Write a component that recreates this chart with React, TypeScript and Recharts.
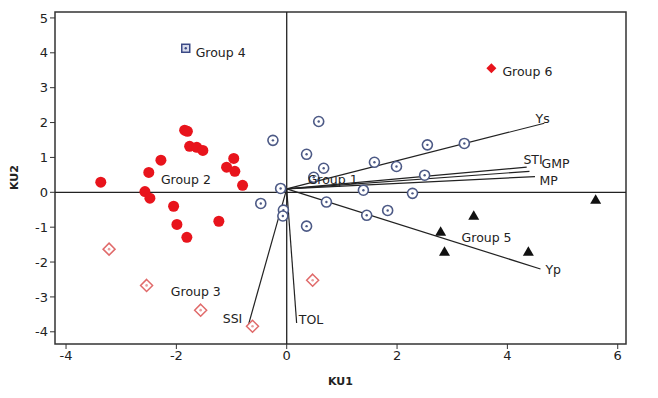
import React from 'react';
import {
  ScatterChart,
  Scatter,
  XAxis,
  YAxis,
  ReferenceLine,
  ReferenceArea,
} from 'recharts';

const xTicks = [-4, -2, 0, 2, 4, 6];
const yTicks = [-4, -3, -2, -1, 0, 1, 2, 3, 4, 5];

const group1 = [
  { x: -0.25, y: 1.49 }, { x: 0.58, y: 2.03 }, { x: 0.36, y: 1.09 }, { x: 0.67, y: 0.69 },
  { x: 0.49, y: 0.43 }, { x: -0.11, y: 0.11 }, { x: 1.59, y: 0.86 }, { x: 1.99, y: 0.74 },
  { x: 2.55, y: 1.36 }, { x: 3.22, y: 1.4 }, { x: 2.5, y: 0.49 }, { x: 1.39, y: 0.06 },
  { x: 2.28, y: -0.03 }, { x: 0.72, y: -0.28 }, { x: 1.45, y: -0.66 }, { x: 1.83, y: -0.52 },
  { x: -0.47, y: -0.32 }, { x: -0.06, y: -0.51 }, { x: -0.07, y: -0.68 }, { x: 0.36, y: -0.97 },
];

const group2 = [
  { x: -3.37, y: 0.29 }, { x: -2.5, y: 0.57 }, { x: -2.28, y: 0.92 }, { x: -1.85, y: 1.78 },
  { x: -1.8, y: 1.75 }, { x: -1.76, y: 1.32 }, { x: -1.63, y: 1.29 }, { x: -1.52, y: 1.2 },
  { x: -0.96, y: 0.97 }, { x: -1.09, y: 0.72 }, { x: -0.94, y: 0.6 }, { x: -0.8, y: 0.2 },
  { x: -2.57, y: 0.02 }, { x: -2.48, y: -0.17 }, { x: -2.05, y: -0.4 }, { x: -1.99, y: -0.92 },
  { x: -1.81, y: -1.29 }, { x: -1.23, y: -0.83 },
];

const group3 = [
  { x: -3.22, y: -1.63 }, { x: -2.54, y: -2.67 }, { x: -1.56, y: -3.38 },
  { x: -0.62, y: -3.84 }, { x: 0.47, y: -2.52 },
];

const group4 = [{ x: -1.83, y: 4.13 }];

const group5 = [
  { x: 5.6, y: -0.2 }, { x: 3.39, y: -0.66 }, { x: 2.79, y: -1.12 },
  { x: 2.86, y: -1.69 }, { x: 4.38, y: -1.69 },
];

const group6 = [{ x: 3.71, y: 3.56 }];

const vectorOrigin = { x: 0, y: 0.1 };
const vectors = [
  { name: 'Ys', x: 4.67, y: 1.98 },
  { name: 'STI', x: 4.35, y: 0.72 },
  { name: 'GMP', x: 4.4, y: 0.6 },
  { name: 'MP', x: 4.5, y: 0.45 },
  { name: 'Yp', x: 4.6, y: -2.2 },
  { name: 'SSI', x: -0.69, y: -3.78 },
  { name: 'TOL', x: 0.18, y: -3.75 },
];

const labels = [
  { text: 'Group 4', x: -1.65, y: 4.01 },
  { text: 'Group 6', x: 3.91, y: 3.47 },
  { text: 'Group 2', x: -2.28, y: 0.37 },
  { text: 'Group 1', x: 0.38, y: 0.37 },
  { text: 'Group 3', x: -2.1, y: -2.84 },
  { text: 'Group 5', x: 3.17, y: -1.29 },
  { text: 'Ys', x: 4.51, y: 2.12 },
  { text: 'STI', x: 4.29, y: 0.95 },
  { text: 'GMP', x: 4.62, y: 0.83 },
  { text: 'MP', x: 4.58, y: 0.34 },
  { text: 'Yp', x: 4.69, y: -2.2 },
  { text: 'SSI', x: -1.16, y: -3.61 },
  { text: 'TOL', x: 0.22, y: -3.64 },
];

const FONT = '"DejaVu Sans", Verdana, sans-serif';

const RedDot = (p: any) => <circle cx={p.cx} cy={p.cy} r={5.5} fill="#e8141c" />;

const RingDot = (p: any) => (
  <g>
    <circle cx={p.cx} cy={p.cy} r={5} fill="#fff" stroke="#4d5a86" strokeWidth={1.6} />
    <circle cx={p.cx} cy={p.cy} r={1.2} fill="#4d5a86" />
  </g>
);

const PinkDiamond = (p: any) => (
  <g>
    <path d={`M${p.cx},${p.cy - 6} L${p.cx + 6},${p.cy} L${p.cx},${p.cy + 6} L${p.cx - 6},${p.cy} Z`} fill="#fff" stroke="#e06a6a" strokeWidth={1.5} />
    <circle cx={p.cx} cy={p.cy} r={1.3} fill="#e8a0a0" />
  </g>
);

const BlueSquare = (p: any) => (
  <g>
    <rect x={p.cx - 4} y={p.cy - 4} width={8} height={8} fill="#d8dcec" stroke="#3b4a86" strokeWidth={1.5} />
    <circle cx={p.cx} cy={p.cy} r={1.2} fill="#3b4a86" />
  </g>
);

const RedDiamond = (p: any) => (
  <path d={`M${p.cx},${p.cy - 5} L${p.cx + 5},${p.cy} L${p.cx},${p.cy + 5} L${p.cx - 5},${p.cy} Z`} fill="#e8141c" />
);

const Triangle = (p: any) => (
  <path d={`M${p.cx},${p.cy - 5} L${p.cx + 5.5},${p.cy + 4.5} L${p.cx - 5.5},${p.cy + 4.5} Z`} fill="#111" />
);

const TextMark = (p: any) => (
  <text x={p.cx} y={p.cy} dominantBaseline="central" fontFamily={FONT} fontSize={12.5} fill="#222">
    {p.payload.text}
  </text>
);

export default function App() {
  return (
    <div style={{ width: 650, height: 390, background: '#fff' }}>
      <ScatterChart width={650} height={390} margin={{ top: 4, right: 32, left: 17, bottom: 24 }}>
        <XAxis
          type="number"
          dataKey="x"
          domain={[-4.2, 6.15]}
          ticks={xTicks}
          axisLine={false}
          tickSize={5}
          tickLine={{ stroke: '#333' }}
          tick={{ fontSize: 13, fill: '#222', fontFamily: FONT }}
          height={30}
          label={{ value: 'KU1', position: 'insideBottom', offset: -11, style: { fontSize: 11, fontWeight: 'bold', fill: '#222', fontFamily: FONT } }}
        />
        <YAxis
          type="number"
          dataKey="y"
          domain={[-4.35, 5.17]}
          ticks={yTicks}
          axisLine={false}
          tickSize={5}
          tickLine={{ stroke: '#333' }}
          tick={{ fontSize: 13, fill: '#222', fontFamily: FONT }}
          width={30}
          label={{ value: 'KU2', angle: -90, position: 'insideLeft', offset: -11, dy: 12, style: { fontSize: 11, fontWeight: 'bold', fill: '#222', fontFamily: FONT } }}
        />
        <ReferenceArea x1={-4.2} x2={6.15} y1={-4.35} y2={5.17} fill="none" stroke="#333" strokeWidth={1.5} ifOverflow="visible" />
        <ReferenceLine x={0} stroke="#222" strokeWidth={1.3} />
        <ReferenceLine y={0} stroke="#222" strokeWidth={1.3} />
        {vectors.map((v) => (
          <ReferenceLine
            key={v.name}
            segment={[vectorOrigin, { x: v.x, y: v.y }]}
            stroke="#222"
            strokeWidth={1.2}
            ifOverflow="visible"
          />
        ))}
        <Scatter data={group1} shape={RingDot} isAnimationActive={false} />
        <Scatter data={group2} shape={RedDot} isAnimationActive={false} />
        <Scatter data={group3} shape={PinkDiamond} isAnimationActive={false} />
        <Scatter data={group4} shape={BlueSquare} isAnimationActive={false} />
        <Scatter data={group5} shape={Triangle} isAnimationActive={false} />
        <Scatter data={group6} shape={RedDiamond} isAnimationActive={false} />
        <Scatter data={labels} shape={TextMark} isAnimationActive={false} />
      </ScatterChart>
    </div>
  );
}
